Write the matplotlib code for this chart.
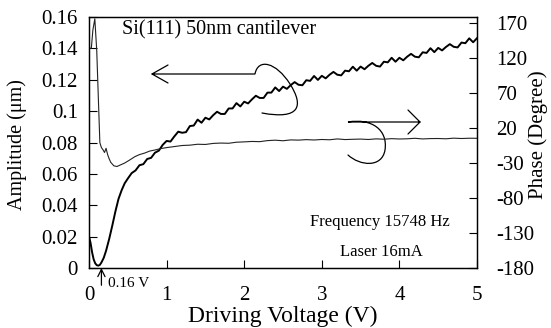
import numpy as np
import matplotlib
matplotlib.use("Agg")
import matplotlib.pyplot as plt
from matplotlib.path import Path
from matplotlib.patches import PathPatch

plt.rcParams['font.family'] = ['Liberation Serif', 'DejaVu Serif']

# Amplitude vs driving voltage (um)
amp_v = [0.00, 0.02, 0.04, 0.06, 0.08, 0.10, 0.12, 0.14, 0.16, 0.19, 0.22, 0.26,
         0.30, 0.34, 0.38, 0.42, 0.46, 0.50, 0.55, 0.60, 0.65, 0.70, 0.75, 0.80,
         0.85, 0.90, 0.95,
         1.00, 1.05, 1.10, 1.15, 1.20, 1.25, 1.30, 1.35, 1.40, 1.45,
         1.50, 1.55, 1.60, 1.65, 1.70, 1.75, 1.80, 1.85, 1.90, 1.95,
         2.00, 2.05, 2.10, 2.15, 2.20, 2.25, 2.30, 2.35, 2.40, 2.45,
         2.50, 2.55, 2.60, 2.65, 2.70, 2.75, 2.80, 2.85, 2.90, 2.95,
         3.00, 3.05, 3.10, 3.15, 3.20, 3.25, 3.30, 3.35, 3.40, 3.45,
         3.50, 3.55, 3.60, 3.65, 3.70, 3.75, 3.80, 3.85, 3.90, 3.95,
         4.00, 4.05, 4.10, 4.15, 4.20, 4.25, 4.30, 4.35, 4.40, 4.45,
         4.50, 4.55, 4.60, 4.65, 4.70, 4.75, 4.80, 4.85, 4.90, 4.95, 5.00]
amplitude = [0.0200, 0.0160, 0.0100, 0.0055, 0.0030, 0.0018, 0.0015, 0.0020, 0.0035,
             0.0065, 0.0110, 0.0185, 0.0270, 0.0360, 0.0440, 0.0495, 0.0540, 0.0570,
             0.0605, 0.0622, 0.0655, 0.0662, 0.0695, 0.0702, 0.0735, 0.0748, 0.0785,
             0.0810, 0.0806, 0.0839, 0.0869, 0.0862, 0.0866, 0.0905, 0.0908, 0.0946, 0.0926,
             0.0958, 0.0947, 0.0974, 0.0996, 0.0982, 0.0982, 0.1017, 0.1017, 0.1051, 0.1030,
             0.1060, 0.1049, 0.1075, 0.1098, 0.1084, 0.1084, 0.1118, 0.1118, 0.1151, 0.1128,
             0.1156, 0.1142, 0.1166, 0.1185, 0.1168, 0.1165, 0.1197, 0.1193, 0.1224, 0.1199,
             0.1225, 0.1209, 0.1232, 0.1250, 0.1232, 0.1228, 0.1258, 0.1254, 0.1283, 0.1258,
             0.1284, 0.1267, 0.1289, 0.1307, 0.1289, 0.1284, 0.1315, 0.1311, 0.1340, 0.1315,
             0.1340, 0.1324, 0.1347, 0.1365, 0.1347, 0.1343, 0.1375, 0.1371, 0.1401, 0.1376,
             0.1403, 0.1387, 0.1409, 0.1427, 0.1410, 0.1406, 0.1437, 0.1433, 0.1464, 0.1439, 0.1465]

# Phase vs driving voltage (degree)
phase_v = [0.00, 0.03, 0.05, 0.075, 0.10, 0.12, 0.14, 0.16, 0.18, 0.20, 0.22, 0.24,
           0.26, 0.28, 0.32, 0.36, 0.40, 0.46, 0.52, 0.59, 0.65, 0.72, 0.78, 0.85,
           0.92, 1.00, 1.10, 1.2, 1.3, 1.4, 1.5, 1.6, 1.7, 1.8, 1.9, 2.0, 2.1, 2.2,
           2.3, 2.4, 2.5, 2.6, 2.7, 2.8, 2.9, 3.0, 3.1, 3.2, 3.3, 3.4, 3.5, 3.6,
           3.7, 3.8, 3.9, 4.0, 4.1, 4.2, 4.3, 4.4, 4.5, 4.6, 4.7, 4.8, 4.9, 5.0]
phase = [134, 134, 160, 176, 130, 64, -1, -8, -11, -15, -9, -18,
         -24, -29, -34, -35, -33, -30, -26, -21, -18, -15.7, -13, -11.4,
         -9.5, -8, -6.5, -5.0, -4.5, -3.2, -3.5, -2.0, -1.5, -1.8, -0.3, 0.2, 0.8, 0.5,
         2.0, 2.6, 1.8, 3.0, 2.7, 3.4, 2.9, 3.6, 3.2, 4.4, 3.5, 3.9, 4.2, 3.6,
         4.5, 4.0, 4.8, 4.3, 4.6, 5.3, 4.4, 4.9, 5.0, 4.6, 5.5, 5.0, 5.4, 5.3]

amp_ticks = [0, 0.02, 0.04, 0.06, 0.08, 0.10, 0.12, 0.14, 0.16]
amp_labels = ['0', '0.02', '0.04', '0.06', '0.08', '0.1', '0.12', '0.14', '0.16']
phase_ticks = [-180, -130, -80, -30, 20, 70, 120, 170]
x_ticks = [0, 1, 2, 3, 4, 5]

fig = plt.figure(figsize=(5.51, 3.28), dpi=100)
ax = fig.add_axes([89 / 551, 60 / 328, 388 / 551, 251 / 328])
ax2 = ax.twinx()

ax.plot(amp_v, amplitude, color='black', lw=1.4)
ax2.plot(phase_v, phase, color='#222222', lw=0.8)

ax.set_xlim(0, 5)
ax.set_ylim(0, 0.16)
ax2.set_ylim(-180, 178.6)

ax.set_xticks(x_ticks)
ax.set_yticks(amp_ticks, amp_labels)
ax2.set_yticks(phase_ticks, [str(t) for t in phase_ticks])

ax.tick_params(axis='x', direction='in', length=6, width=0.8, labelsize=15, pad=13)
ax.tick_params(axis='y', direction='in', length=6, width=0.8, labelsize=15, pad=8)
ax2.tick_params(axis='y', direction='in', length=6, width=0.8, labelsize=15, pad=14)
for a in (ax, ax2):
    for s in a.spines.values():
        s.set_linewidth(0.9)

ax.set_xlabel('Driving Voltage (V)', fontsize=17)
ax.xaxis.set_label_coords(0.5, -0.15)
ax.set_ylabel('Amplitude (\u03bcm)', fontsize=14.5)
ax.yaxis.set_label_coords(-0.16, 0.49)
ax2.set_ylabel('Phase (Degree)', fontsize=15)
ax2.yaxis.set_label_coords(1.132, 0.53)

# annotations
ax.text(0.085, 0.948, 'Si(111) 50nm cantilever', transform=ax.transAxes,
        fontsize=14.5, va='center', ha='left')
ax.text(0.57, 0.183, 'Frequency 15748 Hz', transform=ax.transAxes,
        fontsize=12, va='center', ha='left')
ax.text(0.646, 0.065, 'Laser 16mA', transform=ax.transAxes,
        fontsize=12, va='center', ha='left')
ax.text(0.049, -0.06, '0.16 V', transform=ax.transAxes,
        fontsize=11, va='center', ha='left', clip_on=False)

# arrow at 0.16 V
ax.annotate('', xy=(0.16, 0.0), xytext=(0.16, -0.011),
            arrowprops=dict(arrowstyle='->', lw=0.9, color='black',
                            shrinkA=0, shrinkB=0, mutation_scale=13),
            annotation_clip=False)


def px(x, y):
    # pixel position inside the frame -> axes fraction
    return ((x - 89) / 388, (268 - y) / 251)


def hook_arrow(points, codes):
    verts = [px(x, y) for x, y in points]
    patch = PathPatch(Path(verts, codes), transform=ax.transAxes,
                      fill=False, lw=0.9, color='black', capstyle='round')
    ax.add_patch(patch)


M, L, C = Path.MOVETO, Path.LINETO, Path.CURVE4

# left-pointing arrow (amplitude axis)
hook_arrow([(168, 65), (152, 74), (168, 83), (152, 74), (255, 74),
            (258, 58), (276, 62), (290, 84),
            (304, 106), (300, 120), (262, 113)],
           [M, L, L, M, L, C, C, C, C, C, C])

# right-pointing arrow (phase axis)
hook_arrow([(408, 110), (420, 122), (408, 134), (420, 122), (348, 122),
            (372, 118), (388, 130), (385, 150),
            (382, 168), (360, 166), (348, 155)],
           [M, L, L, M, L, C, C, C, C, C, C])

fig.savefig('out.png', dpi=100)
